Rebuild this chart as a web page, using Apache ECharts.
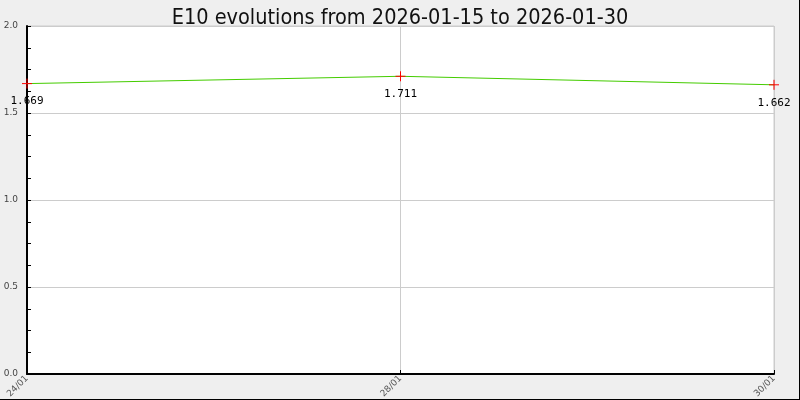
<!DOCTYPE html>
<html>
<head>
<meta charset="utf-8">
<script src="https://cdn.jsdelivr.net/npm/echarts@6/dist/echarts.min.js"></script>
<style>
html,body{margin:0;padding:0;background:#efefef;}
#c{width:800px;height:400px;}
</style>
</head>
<body>
<div id="c"></div>
<script>
var titleText = "E10 evolutions from 2026-01-15 to 2026-01-30";
var categories = ["24/01", "28/01", "30/01"];
var values = [1.669, 1.711, 1.662];
var yTicks = [0.0, 0.5, 1.0, 1.5, 2.0];

var chart = echarts.init(document.getElementById('c'), null, {renderer: 'canvas'});
chart.setOption({
  backgroundColor: '#efefef',
  animation: false,
  title: {
    text: titleText,
    left: 'center',
    top: 2,
    textStyle: {fontFamily: 'DejaVu Sans Condensed', fontSize: 21.5, fontWeight: 'normal', color: '#111'}
  },
  grid: {left: 27, right: 26, top: 26, bottom: 26, containLabel: false, outerBoundsMode: 'none',
    show: true, backgroundColor: '#fff', borderColor: '#cccccc', borderWidth: 1},
  xAxis: {
    type: 'category',
    data: categories,
    boundaryGap: false,
    axisLine: {lineStyle: {color: '#000', width: 2}},
    axisTick: {show: true, inside: true, length: 4, lineStyle: {color: '#000'}},
    splitLine: {show: true, lineStyle: {color: '#cccccc'}},
    axisLabel: {rotate: 45, fontSize: 9, color: '#555', fontFamily: 'DejaVu Sans', margin: 3}
  },
  yAxis: {
    type: 'value',
    min: yTicks[0],
    max: yTicks[yTicks.length - 1],
    interval: 0.5,
    axisLine: {show: true, lineStyle: {color: '#000', width: 2}},
    axisTick: {show: true, inside: true, length: 4, lineStyle: {color: '#000'}},
    minorTick: {show: true, splitNumber: 4, length: 4, lineStyle: {color: '#000'}},
    splitLine: {show: true, lineStyle: {color: '#cccccc'}},
    axisLabel: {fontSize: 9, color: '#444', fontFamily: 'DejaVu Sans', margin: 9,
      formatter: function (v) { return v.toFixed(1); }}
  },
  series: [{
    type: 'line',
    data: values,
    lineStyle: {color: '#44cc00', width: 1},
    symbol: 'path://M0,5L10,5M5,0L5,10',
    symbolSize: 10,
    itemStyle: {color: 'none', borderColor: '#ff0000', borderWidth: 1},
    label: {
      show: true, position: 'bottom', distance: 5,
      fontFamily: 'DejaVu Sans Mono', fontSize: 11, color: '#000',
      formatter: function (p) { return p.value.toFixed(3); }
    },
    z: 5
  }],
  graphic: [
    {type: 'line', shape: {x1: 799.5, y1: 0, x2: 799.5, y2: 400}, style: {stroke: '#000', lineWidth: 1}},
    {type: 'line', shape: {x1: 0, y1: 399.5, x2: 800, y2: 399.5}, style: {stroke: '#000', lineWidth: 1}}
  ]
});
</script>
</body>
</html>
